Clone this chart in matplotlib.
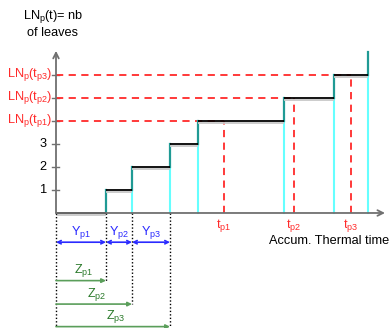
import matplotlib
matplotlib.use("Agg")
import matplotlib.pyplot as plt

plt.rcParams["font.family"] = ["Liberation Sans", "DejaVu Sans"]
plt.rcParams["mathtext.fontset"] = "custom"
plt.rcParams["mathtext.rm"] = "Liberation Sans"
plt.rcParams["mathtext.it"] = "Liberation Sans"

# leaf appearance times (thermal time) and leaf counts
rise_times = [5.0, 7.6, 11.4, 14.2, 22.8, 27.8, 31.2]
levels = [0, 1, 2, 3, 4, 5, 6, 7]
ytick_vals = [1, 2, 3]
ytick_labels = ["1", "2", "3"]

# phytomer observation times and leaf numbers at those times
tp_times = [16.8, 23.8, 29.5]
tp_levels = [4, 5, 6]
tp_labels = [r"t$_\mathrm{p1}$", r"t$_\mathrm{p2}$", r"t$_\mathrm{p3}$"]
ln_labels = [r"LN$_\mathrm{p}$(t$_\mathrm{p1}$)", r"LN$_\mathrm{p}$(t$_\mathrm{p2}$)",
             r"LN$_\mathrm{p}$(t$_\mathrm{p3}$)"]

y_labels = [r"Y$_\mathrm{p1}$", r"Y$_\mathrm{p2}$", r"Y$_\mathrm{p3}$"]
z_labels = [r"Z$_\mathrm{p1}$", r"Z$_\mathrm{p2}$", r"Z$_\mathrm{p3}$"]

GRAY = "#707070"
RED = "#ff2a2a"
BLUE = "#2a2aff"
GREEN_TXT = "#2b7a2b"
GREEN_LINE = "#5a9e5a"
CYAN = "#66ffff"
TEAL = "#1f9a94"
FS = 9.2

fig = plt.figure(figsize=(3.9, 3.28), dpi=100)
ax = fig.add_axes([0, 0, 1, 1])
ax.set_xlim(-5.6, 33.4)
ax.set_ylim(-5.0, 9.26)
ax.axis("off")

# axes with arrows
ax.annotate("", xy=(32.9, 0), xytext=(0, 0),
            arrowprops=dict(arrowstyle="->", color=GRAY, lw=1.3, shrinkA=0, shrinkB=0))
ax.annotate("", xy=(0, 7.05), xytext=(0, 0),
            arrowprops=dict(arrowstyle="->", color=GRAY, lw=1.3, shrinkA=0, shrinkB=0))
for v in ytick_vals + tp_levels:
    ax.plot([-0.35, 0.35], [v, v], color=GRAY, lw=1)
for v, lab in zip(ytick_vals, ytick_labels):
    ax.text(-0.9, v, lab, ha="right", va="center", fontsize=FS)

# red dashed guides
for t, lv, tl, ll in zip(tp_times, tp_levels, tp_labels, ln_labels):
    ax.plot([0, t], [lv, lv], color=RED, lw=1.3, ls=(0, (4, 3)))
    ax.plot([t, t], [0, lv], color=RED, lw=1.3, ls=(0, (4, 3)))
    ax.text(t, -0.55, tl, ha="center", va="center", color=RED, fontsize=FS)
    ax.text(-0.35, lv, ll, ha="right", va="center", color=RED, fontsize=FS)

# cyan guides and teal step risers
for i, t in enumerate(rise_times):
    if i > 0:
        ax.plot([t, t], [0, levels[i]], color=CYAN, lw=1.5)
    ax.plot([t, t], [levels[i], levels[i + 1]], color=TEAL, lw=1.6)

# horizontal treads
starts = [0] + rise_times[:-1]
for s, e, lv in zip(starts, rise_times, levels):
    ax.plot([s, e], [lv - 0.07, lv - 0.07], color="#c8c8c8", lw=1.3, solid_capstyle="butt")
    ax.plot([s, e], [lv, lv], color="black", lw=1.3, solid_capstyle="butt")

ax.text(-0.3, 8.25, r"LN$_\mathrm{p}$(t)= nb" + "\nof leaves", ha="center", va="center",
        fontsize=FS, linespacing=1.25)
ax.text(33.3, -1.2, "Accum. Thermal time", ha="right", va="center", fontsize=FS)

# bottom annotations
bounds = [0] + rise_times[:3]
z_rows = [-2.94, -3.96, -4.94]
for x, bottom in zip(bounds, [-5.0, -2.94, -3.96, -5.0]):
    ax.plot([x, x], [0, bottom], color="black", lw=1, ls=(0, (1, 1.5)))
for i in range(3):
    ax.annotate("", xy=(bounds[i + 1], -1.27), xytext=(bounds[i], -1.27),
                arrowprops=dict(arrowstyle="<->", color=BLUE, lw=1.2, shrinkA=0, shrinkB=0,
                                mutation_scale=6))
    ax.text((bounds[i] + bounds[i + 1]) / 2, -0.83, y_labels[i], ha="center", va="center",
            color=BLUE, fontsize=FS)
    ax.annotate("", xy=(bounds[i + 1], z_rows[i]), xytext=(0, z_rows[i]),
                arrowprops=dict(arrowstyle="-|>", color=GREEN_LINE, lw=1.2, shrinkA=0,
                                shrinkB=0, mutation_scale=6))
    ax.text(bounds[i + 1] / 2 + 0.3, z_rows[i] + 0.42, z_labels[i], ha="center",
            va="center", color=GREEN_TXT, fontsize=FS)

fig.savefig("out.png", dpi=100)
